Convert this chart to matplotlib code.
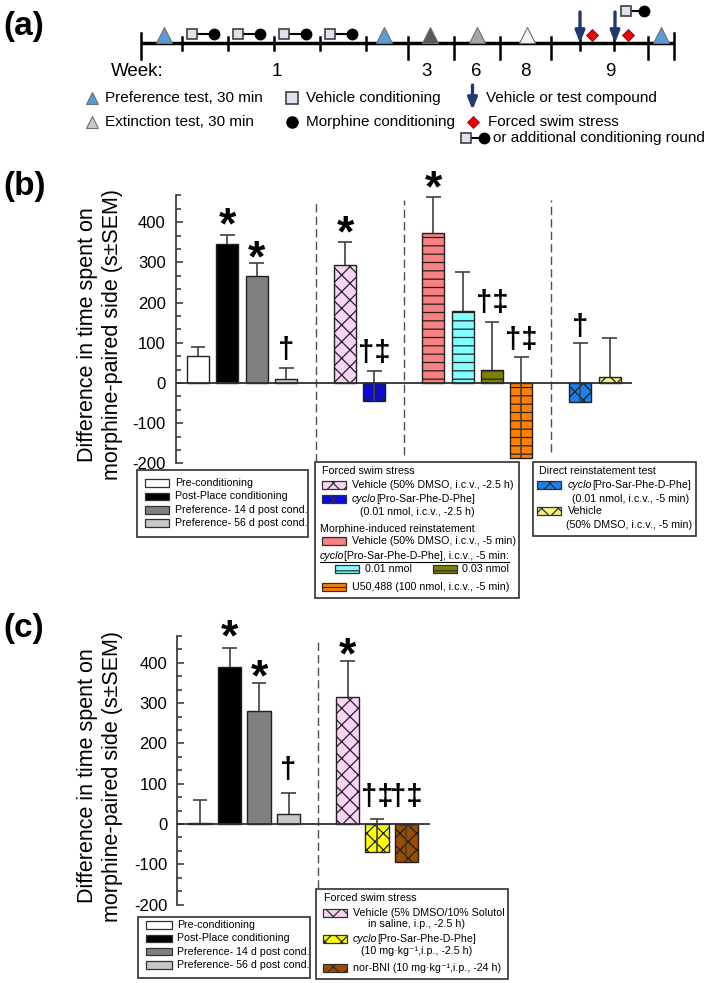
import matplotlib
matplotlib.use('Agg')
import matplotlib.pyplot as plt
from matplotlib.patches import Rectangle
import numpy as np

plt.rcParams['font.family'] = ['Liberation Sans', 'DejaVu Sans']
plt.rcParams['hatch.linewidth'] = 0.9
plt.rcParams['axes.unicode_minus'] = False

# ---------------- data ----------------
# panel (b)
b_pos = [0, 1, 2, 3, 5, 6, 8, 9, 10, 11, 13, 14]
b_values = [68, 347, 267, 10, 293, -45, 372, 180, 33, -186, -47, 15]
b_upper = [90, 369, 298, 38, 351, 31, 463, 275, 152, 64, 99, 112]
b_colors = ['#ffffff', '#000000', '#808080', '#c8c8c8', '#f9d4f6', '#0a0ae6',
            '#f88080', '#80ffff', '#808000', '#ff8000', '#1a7ff0', '#f8f080']
b_hatches = ['', '', '', '', 'xx', 'xx', '--', '--', '--', '--', 'xx', 'xx']
b_marks = ['', '*', '*', '†', '*', '†‡', '*', '', '†‡', '†‡', '†', '']
b_mark_y = [0, 405, 325, 82, 386, 75, 497, 0, 199, 107, 139, 0]
b_dividers = [4, 7, 12]
b_div_bottom = [-197, -180, -172]

# panel (c)
c_pos = [0, 1, 2, 3, 5, 6, 7]
c_values = [2, 390, 281, 25, 316, -69, -95]
c_upper = [60, 436, 349, 76, 404, 12, -3]
c_colors = ['#ffffff', '#000000', '#808080', '#c8c8c8', '#f9d4f6', '#ffff00', '#9a4c00']
c_hatches = ['', '', '', '', 'xx', 'xx', 'xx']
c_marks = ['', '*', '*', '†', '*', '†‡', '†‡']
c_mark_y = [0, 477, 378, 134, 432, 68, 68]
c_dividers = [4]
c_div_bottom = [-160]

yticks_major = list(range(-200, 401, 100))
ylabel = "Difference in time spent on\nmorphine-paired side (s\u00b1SEM)"

W, H = 709, 983
fig = plt.figure(figsize=(W / 100, H / 100), dpi=100)
ov = fig.add_axes([0, 0, 1, 1], zorder=1)
ov.set_xlim(0, W)
ov.set_ylim(H, 0)
ov.axis('off')
renderer = fig.canvas.get_renderer()

EC = '#202020'


def draw_panel(l, r, t, b, xlim, pos, values, upper, colors, hatches, width, cap,
               marks, mark_y, dividers, div_bottom, div_top, base_end):
    ax = fig.add_axes([l / W, 1 - b / H, (r - l) / W, (b - t) / H], zorder=2)
    ax.patch.set_alpha(0)
    ax.set_xlim(*xlim)
    ax.set_ylim(-200, 1400 / 3)
    bars = ax.bar(pos, values, width, color=colors, edgecolor=EC, linewidth=1.0, zorder=2)
    for bar, h in zip(bars, hatches):
        bar.set_hatch(h)
    p = np.array(pos, dtype=float)
    ax.vlines(p, values, upper, color='#404040', lw=1.2, zorder=3)
    ax.hlines(upper, p - cap, p + cap, color='#404040', lw=1.2, zorder=3)
    ax.hlines(0, xlim[0], base_end, color='#303030', lw=1.3, zorder=4)
    for d, bt in zip(dividers, div_bottom):
        ax.vlines(d, bt, div_top, colors='#505050', lw=1.0, linestyles=(0, (6, 3)), zorder=1)
    for x, m, y in zip(pos, marks, mark_y):
        if not m:
            continue
        if m == '*':
            fs, off = 32, 0.42
        else:
            fs, off = 21, 0.28
        ax.annotate(m, (x, y), xytext=(0, -off * fs), textcoords='offset points',
                    ha='center', va='baseline', fontsize=fs, fontweight='bold',
                    annotation_clip=False, zorder=5)
    for s in ['top', 'right', 'bottom']:
        ax.spines[s].set_visible(False)
    ax.spines['left'].set_linewidth(1.2)
    ax.spines['left'].set_color('#303030')
    ax.set_yticks(yticks_major)
    ax.set_yticks(np.arange(-200, 467, 100 / 3), minor=True)
    ax.tick_params(axis='y', which='major', direction='in', length=5, width=1.1,
                   labelsize=12, pad=7, color='#303030')
    ax.tick_params(axis='y', which='minor', direction='in', length=3.6, width=1.1, color='#303030')
    ax.set_xticks([])
    return ax


# panel (b)
draw_panel(175.5, 653.7, 195.4, 463.4, ((175.5 - 198) / 29.4, 15.5), b_pos, b_values, b_upper,
           b_colors, b_hatches, 0.75, 0.25, b_marks, b_mark_y, b_dividers, b_div_bottom, 455, 14.77)
# panel (c)
draw_panel(177, 450.75, 636.0, 904.6, ((177 - 200) / 29.5, 8.5), c_pos, c_values, c_upper,
           c_colors, c_hatches, 0.78, 0.24, c_marks, c_mark_y, c_dividers, c_div_bottom, 452, 7.8)

# ---------------- labels ----------------
for lab, y in [('(a)', 27), ('(b)', 186), ('(c)', 628)]:
    ov.text(3, y, lab, fontsize=24, fontweight='bold', ha='left', va='center')
ov.text(100, 335, ylabel, rotation=90, ha='center', va='center', fontsize=15.5,
        multialignment='center', linespacing=1.2)
ov.text(100, 776, ylabel, rotation=90, ha='center', va='center', fontsize=15.5,
        multialignment='center', linespacing=1.2)

# ---------------- panel (a) schematic ----------------
NAVY = '#1f3a6e'
BLUE_T = '#5b9bd5'
SQ = '#dce3ef'
tl_y = 43
tl_ends = [141, 674]
tl_minor = [182, 228, 274, 320, 366, 580, 614]
tl_major = [408, 453.5, 500, 551, 648]
ov.plot(tl_ends, [tl_y, tl_y], color='k', lw=2.5, solid_capstyle='butt')
for x in tl_minor:
    ov.plot([x, x], [37, 50], color='k', lw=1.8)
for x in tl_major:
    ov.plot([x, x], [37, 59], color='k', lw=1.8)
for x in tl_ends:
    ov.plot([x, x], [33, 59], color='k', lw=1.8)

pref_x = [163.5, 384, 661]
ext_x = [430, 477, 527]
ext_c = ['#595959', '#a6a6a6', '#f4f4f4']
cond_x = [192, 238, 284, 330]
arrow_x = [580, 615]
diamond_x = [592, 628]


def tri(x, y, c, ms=11):
    ov.plot(x, y, marker='^', ms=ms, mfc=c, mec='#707070', mew=0.8, ls='none')


def pair(x, y, gap=22):
    ov.plot([x, x + gap], [y, y], color='k', lw=1.5)
    ov.plot(x, y, marker='s', ms=7.2, mfc=SQ, mec='#404040', mew=1.2, ls='none')
    ov.plot(x + gap, y, marker='o', ms=7.5, mfc='k', mec='k', ls='none')


def arrow(x, y0, y1):
    ov.annotate('', xy=(x, y1), xytext=(x, y0),
                arrowprops=dict(arrowstyle='-|>,head_width=0.28,head_length=0.7',
                                lw=2.4, color=NAVY, shrinkA=0, shrinkB=0))


def diamond(x, y):
    ov.plot(x, y, marker='D', ms=6.3, mfc='#e8000b', mec='#900000', mew=0.6, ls='none')


for x in pref_x:
    tri(x, 35, BLUE_T)
for x, c in zip(ext_x, ext_c):
    tri(x, 35, c)
for x in cond_x:
    pair(x, 34)
for x in arrow_x:
    arrow(x, 12, 43)
for x in diamond_x:
    diamond(x, 35)
pair(626, 11, gap=18)

ov.text(111, 72, 'Week:', fontsize=13.5, ha='left', va='center')
for s, x in [('1', 277), ('3', 427), ('6', 476), ('8', 525), ('9', 610)]:
    ov.text(x, 72, s, fontsize=13.5, ha='center', va='center')

AFS = 11
tri(92, 98, BLUE_T, ms=9)
ov.text(105, 98, 'Preference test, 30 min', fontsize=AFS, va='center')
tri(92, 122, '#c8c8c8', ms=9)
ov.text(105, 122, 'Extinction test, 30 min', fontsize=AFS, va='center')
ov.plot(292, 98, marker='s', ms=8, mfc=SQ, mec='#404040', mew=1.2)
ov.text(306, 98, 'Vehicle conditioning', fontsize=AFS, va='center')
ov.plot(292, 122, marker='o', ms=8, mfc='k', mec='k')
ov.text(306, 122, 'Morphine conditioning', fontsize=AFS, va='center')
arrow(472.5, 85, 110)
ov.text(486, 98, 'Vehicle or test compound', fontsize=AFS, va='center')
diamond(472.5, 122)
ov.text(488, 122, 'Forced swim stress', fontsize=AFS, va='center')
pair(466, 138, gap=18)
ov.text(493, 138, 'or additional conditioning round', fontsize=AFS, va='center')

# ---------------- legends ----------------
LFS = 7.7


def box(x0, x1, y0, y1):
    ov.add_patch(Rectangle((x0, y0), x1 - x0, y1 - y0, fill=False, ec='#303030', lw=1.2))


def swatch(x0, y, color, hatch='', w=24, h=7.5):
    ov.add_patch(Rectangle((x0, y - h / 2), w, h, facecolor=color, edgecolor='#303030',
                           hatch=hatch, lw=0.9))


def lt(x, y, s, **kw):
    return ov.text(x, y, s, fontsize=LFS, va='center', ha='left', **kw)


def cyclo(x, y, rest, underline=False):
    t = lt(x, y, 'cyclo', style='italic')
    bb = t.get_window_extent(renderer)
    t2 = lt(x + bb.width, y, rest)
    if underline:
        bb2 = t2.get_window_extent(renderer)
        ov.plot([x, x + bb.width + bb2.width], [y + 6, y + 6], color='k', lw=0.8)


# left legends (b and c)
groups = ['Pre-conditioning', 'Post-Place conditioning', 'Preference- 14 d post cond.',
          'Preference- 56 d post cond.']
gcols = ['#ffffff', '#000000', '#808080', '#c8c8c8']
box(137.4, 307.6, 470, 537)
for i, (g, c) in enumerate(zip(groups, gcols)):
    y = 483 + 13.4 * i
    swatch(144.8, y, c)
    lt(175, y, g)
box(138, 310, 917, 978)
for i, (g, c) in enumerate(zip(groups, gcols)):
    y = 925 + 13.3 * i
    swatch(146, y, c, w=26)
    lt(177, y, g)

# middle legend (b)
box(315, 519, 462, 598)
lt(321.6, 471, 'Forced swim stress')
swatch(321.6, 485, b_colors[4], 'xx')
lt(352, 485, 'Vehicle (50% DMSO, i.c.v., -2.5 h)')
swatch(321.6, 499, b_colors[5], 'xx')
cyclo(352, 499, '[Pro-Sar-Phe-D-Phe]')
lt(360, 512, '(0.01 nmol, i.c.v., -2.5 h)')
lt(320, 529, 'Morphine-induced reinstatement')
swatch(321.6, 541, b_colors[6], '--')
lt(352, 541, 'Vehicle (50% DMSO, i.c.v., -5 min)')
cyclo(320, 556, '[Pro-Sar-Phe-D-Phe], i.c.v., -5 min:', underline=True)
swatch(335, 569, b_colors[7], '--')
lt(365, 569, '0.01 nmol')
swatch(432.6, 569, b_colors[8], '--')
lt(462, 569, '0.03 nmol')
swatch(321.6, 587, b_colors[9], '--')
lt(352, 587, 'U50,488 (100 nmol, i.c.v., -5 min)')

# right legend (b)
box(532.5, 696, 462, 536)
lt(539, 471, 'Direct reinstatement test')
swatch(537, 485, b_colors[10], 'xx')
cyclo(568, 485, '[Pro-Sar-Phe-D-Phe]')
lt(572, 499, '(0.01 nmol, i.c.v., -5 min)')
swatch(537, 511, b_colors[11], 'xx')
lt(568, 511, 'Vehicle')
lt(566, 525, '(50% DMSO, i.c.v., -5 min)')

# middle legend (c)
box(316, 508, 889, 979)
lt(324, 898, 'Forced swim stress')
swatch(323, 913, c_colors[4], 'xx')
lt(352.7, 913, 'Vehicle (5% DMSO/10% Solutol')
lt(367.7, 924, 'in saline, i.p., -2.5 h)')
swatch(323, 939, c_colors[5], 'xx')
cyclo(352.7, 939, '[Pro-Sar-Phe-D-Phe]')
lt(361, 951, '(10 mg\u00b7kg\u207b\u00b9,i.p., -2.5 h)')
swatch(323, 968, c_colors[6], 'xx')
lt(352.7, 968, 'nor-BNI (10 mg\u00b7kg\u207b\u00b9,i.p., -24 h)')

fig.savefig('out.png', dpi=100)
